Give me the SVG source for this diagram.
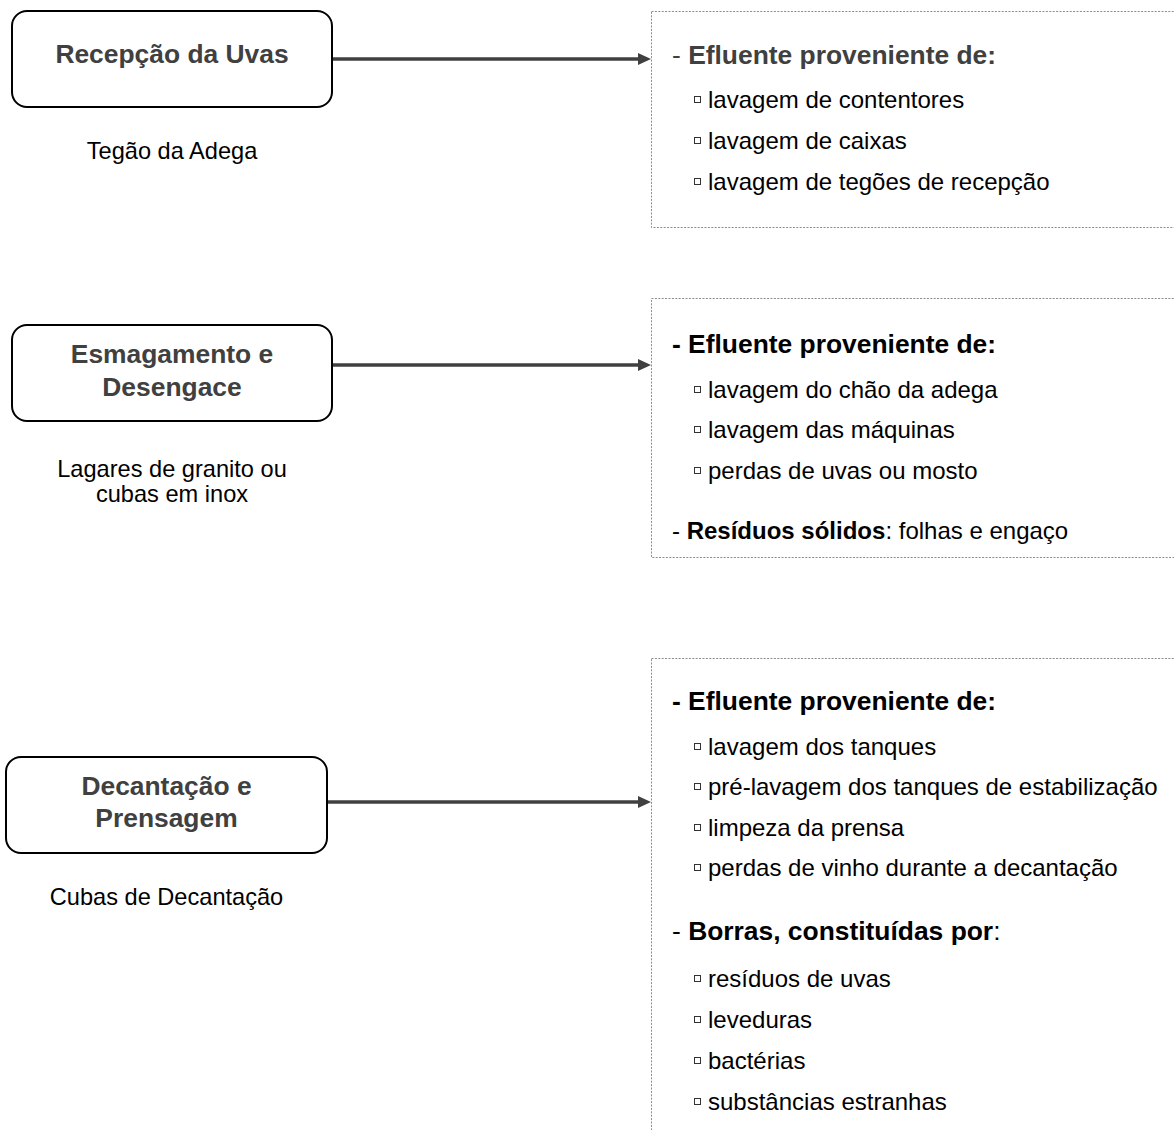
<svg xmlns="http://www.w3.org/2000/svg" width="1174" height="1130" viewBox="0 0 1174 1130">
  <style>
    text { font-family: "Liberation Sans", Arial, Helvetica, sans-serif; }
    .step { fill: #ffffff; stroke: #000000; stroke-width: 2; }
    .title { font-size: 26.4px; font-weight: bold; fill: #404040; text-anchor: middle; }
    .place { font-size: 23.6px; fill: #000000; text-anchor: middle; }
    .panel { fill: none; stroke: #8c8c8c; stroke-width: 1; stroke-dasharray: 2 1.4; }
    .head { font-size: 26.4px; font-weight: bold; fill: #000000; }
    .head.grey { fill: #404040; }
    .item { font-size: 24px; fill: #000000; }
    .b { font-weight: bold; }
    .n { font-weight: normal; }
    .bullet { fill: none; stroke: #333333; stroke-width: 1; }
    .link { fill: none; stroke: #404040; stroke-width: 3.5; marker-end: url(#head); }
  </style>
  <defs>
    <marker id="head" markerUnits="userSpaceOnUse" markerWidth="14" markerHeight="13" refX="2" refY="6" orient="auto">
      <path d="M0,0 L13,6 L0,12 z" fill="#404040"/>
    </marker>
    <rect id="sq" class="bullet" x="0.5" y="0.5" width="6" height="6"/>
  </defs>

  <!-- process steps -->
  <g id="step-recepcao">
    <rect class="step" x="12" y="11" width="320" height="96" rx="15"/>
    <text class="title" x="172" y="63">Recepção da Uvas</text>
    <text class="place" x="172" y="159">Tegão da Adega</text>
  </g>

  <g id="step-esmagamento">
    <rect class="step" x="12" y="325" width="320" height="96" rx="15"/>
    <text class="title" x="172" y="363">Esmagamento e</text>
    <text class="title" x="172" y="396">Desengace</text>
    <text class="place" x="172" y="477">Lagares de granito ou</text>
    <text class="place" x="172" y="502">cubas em inox</text>
  </g>

  <g id="step-decantacao">
    <rect class="step" x="6" y="757" width="321" height="96" rx="15"/>
    <text class="title" x="166.5" y="795">Decantação e</text>
    <text class="title" x="166.5" y="827">Prensagem</text>
    <text class="place" x="166.5" y="905">Cubas de Decantação</text>
  </g>

  <!-- connectors -->
  <g id="connectors">
    <path class="link" d="M333,59 H640"/>
    <path class="link" d="M333,365 H640"/>
    <path class="link" d="M328,802 H640"/>
  </g>

  <!-- residue panels -->
  <g id="panel-recepcao">
    <rect class="panel" x="651.5" y="11.5" width="540" height="216"/>
    <text class="head grey" x="672" y="64"><tspan class="n">- </tspan>Efluente proveniente de:</text>
    <use href="#sq" x="694" y="96"/>
    <text class="item" x="708" y="108">lavagem de contentores</text>
    <use href="#sq" x="694" y="137"/>
    <text class="item" x="708" y="149">lavagem de caixas</text>
    <use href="#sq" x="694" y="178"/>
    <text class="item" x="708" y="190">lavagem de tegões de recepção</text>
  </g>

  <g id="panel-esmagamento">
    <rect class="panel" x="651.5" y="298.5" width="540" height="259"/>
    <text class="head" x="672" y="353">- Efluente proveniente de:</text>
    <use href="#sq" x="694" y="386"/>
    <text class="item" x="708" y="398">lavagem do chão da adega</text>
    <use href="#sq" x="694" y="426"/>
    <text class="item" x="708" y="438">lavagem das máquinas</text>
    <use href="#sq" x="694" y="467"/>
    <text class="item" x="708" y="479">perdas de uvas ou mosto</text>
    <text class="item" x="672" y="539">- <tspan class="b">Resíduos sólidos</tspan>: folhas e engaço</text>
  </g>

  <g id="panel-decantacao">
    <rect class="panel" x="651.5" y="658.5" width="540" height="500"/>
    <text class="head" x="672" y="710">- Efluente proveniente de:</text>
    <use href="#sq" x="694" y="743"/>
    <text class="item" x="708" y="755">lavagem dos tanques</text>
    <use href="#sq" x="694" y="783"/>
    <text class="item" x="708" y="795">pré-lavagem dos tanques de estabilização</text>
    <use href="#sq" x="694" y="824"/>
    <text class="item" x="708" y="836">limpeza da prensa</text>
    <use href="#sq" x="694" y="864"/>
    <text class="item" x="708" y="876">perdas de vinho durante a decantação</text>
    <text class="head" x="672" y="940"><tspan class="n">- </tspan>Borras, constituídas por<tspan class="n">:</tspan></text>
    <use href="#sq" x="694" y="975"/>
    <text class="item" x="708" y="987">resíduos de uvas</text>
    <use href="#sq" x="694" y="1016"/>
    <text class="item" x="708" y="1028">leveduras</text>
    <use href="#sq" x="694" y="1057"/>
    <text class="item" x="708" y="1069">bactérias</text>
    <use href="#sq" x="694" y="1098"/>
    <text class="item" x="708" y="1110">substâncias estranhas</text>
  </g>
</svg>
